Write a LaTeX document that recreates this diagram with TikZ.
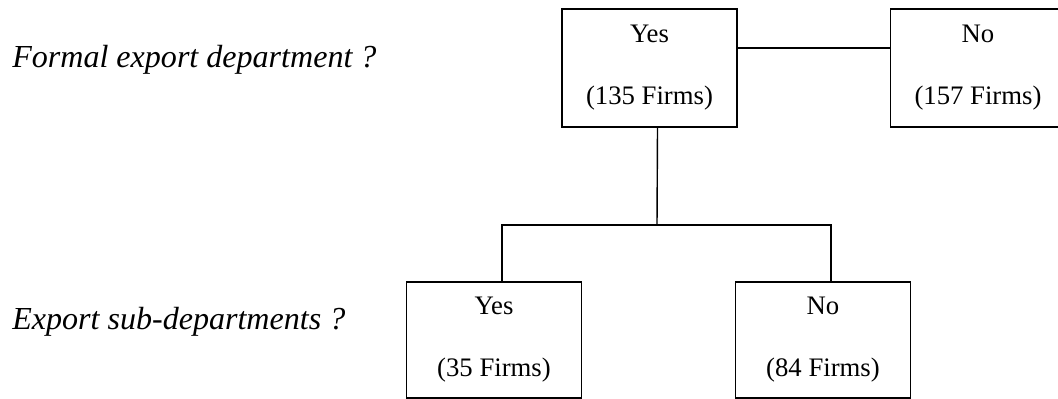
\documentclass[tikz,border=0pt]{standalone}
\usepackage{fontspec}
\setmainfont{Liberation Serif}
\usetikzlibrary{positioning}

\begin{document}
\begin{tikzpicture}[x=0.025cm, y=-0.025cm,
    box/.style={draw, line width=1pt, minimum width=4.375cm, minimum height=2.95cm,
        align=center, font=\fontsize{19}{23}\selectfont},
    question/.style={anchor=base west, inner sep=0pt, font=\fontsize{22.8}{27}\selectfont\itshape}]
    \useasboundingbox (0,0) rectangle (1058,399);
    \clip (0,0) rectangle (1058,399);
    % Questions on the left
    \node[question] (qformal) at (12,68) {Formal export department ?};
    \node[question] (qsub) at (12,329) {Export sub-departments ?};
    
    % First level
    \node[box] (formalyes) at (649.5,68) {Yes\\[21pt](135 Firms)};
    \node[box] (formalno) at (978,68) {No\\[21pt](157 Firms)};
    
    % Second level
    \node[box, minimum height=2.9cm] (subyes) at (494,340) {Yes\\[21pt](35 Firms)};
    \node[box, minimum height=2.9cm] (subno) at (823,340) {No\\[21pt](84 Firms)};
    
    % Connectors
    \draw[line width=1pt] ([yshift=0.5cm]formalyes.east) -- ([yshift=0.5cm]formalno.west);
    \coordinate (fork) at (657,225);
    \draw[line width=1pt] ([xshift=0.2cm]formalyes.south) -- (fork);
    \draw[line width=1pt] ([xshift=0.2cm]subyes.north) |- (fork) -| ([xshift=0.2cm]subno.north);
\end{tikzpicture}
\end{document}
